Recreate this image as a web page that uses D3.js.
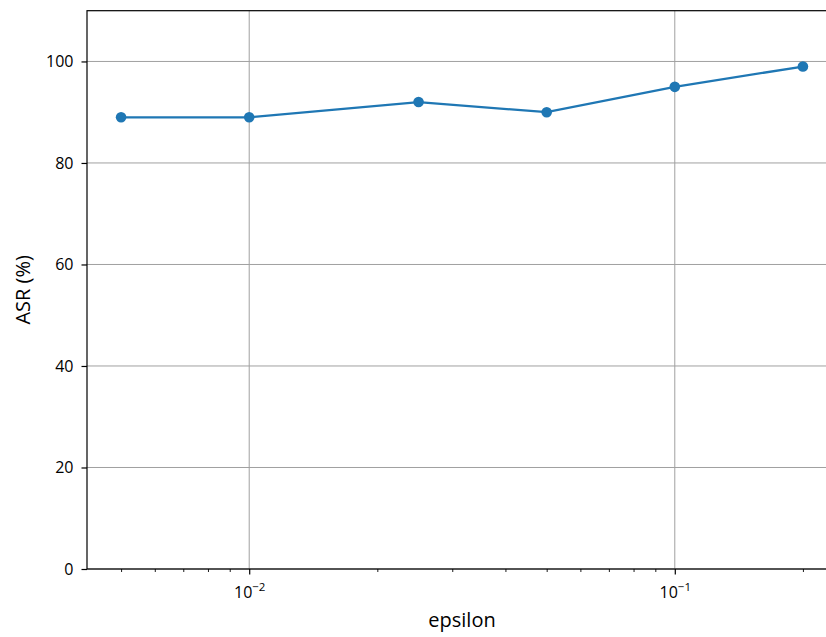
<!DOCTYPE html>
<html><head><meta charset="utf-8">
<script src="https://cdn.jsdelivr.net/npm/d3@7"></script>
<style>body{margin:0;background:#fff}svg{display:block}</style>
</head><body>
<svg id="c" width="826" height="637"></svg>
<script>
const epsilons = [0.005, 0.01, 0.025, 0.05, 0.1, 0.2];
const asr = [89, 89, 92, 90, 95, 99];
const yTicks = [0, 20, 40, 60, 80, 100];
const xMajorTicks = [0.01, 0.1];
const xMinorTicks = [0.005, 0.006, 0.007, 0.008, 0.009, 0.02, 0.03, 0.04, 0.05, 0.06, 0.07, 0.08, 0.09, 0.2];
const xMajorExp = ["−2", "−1"];

const svg = d3.select("#c");
const L = 87, R = 837, T = 10.7, B = 569;
const pad = 0.0801;
const x = d3.scaleLog().domain([0.005 / Math.pow(10, pad), 0.2 * Math.pow(10, pad)]).range([L, R]);
const y = d3.scaleLinear().domain([0, 110]).range([B, T]);
const font = "'Open Sans', 'Noto Sans', sans-serif";
const grid = "#a0a0a0";

// grid
svg.append("g").selectAll("line").data(yTicks).join("line")
  .attr("x1", L).attr("x2", R).attr("y1", d => y(d)).attr("y2", d => y(d))
  .attr("stroke", grid).attr("stroke-width", 1);
svg.append("g").selectAll("line").data(xMajorTicks).join("line")
  .attr("x1", d => x(d)).attr("x2", d => x(d)).attr("y1", T).attr("y2", B)
  .attr("stroke", grid).attr("stroke-width", 1);

// y axis
const yAxis = d3.axisLeft(y).tickValues(yTicks).tickSize(5.5).tickPadding(8).tickFormat(d3.format("d"));
const gy = svg.append("g").attr("transform", `translate(${L},0)`).call(yAxis);
gy.select(".domain").remove();
gy.selectAll("text").attr("font-family", font).attr("font-size", 16).attr("fill", "#000");
gy.selectAll("line").attr("stroke", "#000").attr("stroke-width", 1.2);

// x axis major
const xAxis = d3.axisBottom(x).tickValues(xMajorTicks).tickSize(5.5).tickFormat("");
const gx = svg.append("g").attr("transform", `translate(0,${B})`).call(xAxis);
gx.select(".domain").remove();
gx.selectAll("line").attr("stroke", "#000").attr("stroke-width", 1.2);
gx.selectAll(".tick").each(function(d, i) {
  const t = d3.select(this).append("text").attr("y", 29).attr("text-anchor", "middle")
    .attr("font-family", font).attr("font-size", 16).attr("fill", "#000");
  t.append("tspan").text("10");
  t.append("tspan").attr("dy", -7).attr("font-size", 11.5).text(xMajorExp[i]);
});
// x axis minor
const xMinor = d3.axisBottom(x).tickValues(xMinorTicks).tickSize(3).tickFormat("");
const gxm = svg.append("g").attr("transform", `translate(0,${B})`).call(xMinor);
gxm.select(".domain").remove();
gxm.selectAll("line").attr("stroke", "#000").attr("stroke-width", 0.9);

// spines
svg.append("rect").attr("x", L).attr("y", T).attr("width", R - L).attr("height", B - T)
  .attr("fill", "none").attr("stroke", "#000").attr("stroke-width", 1.2);

// line
const line = d3.line().x((d, i) => x(epsilons[i])).y(d => y(d));
svg.append("path").datum(asr).attr("d", line).attr("fill", "none")
  .attr("stroke", "#1f77b4").attr("stroke-width", 2.3);
svg.append("g").selectAll("circle").data(asr).join("circle")
  .attr("cx", (d, i) => x(epsilons[i])).attr("cy", d => y(d)).attr("r", 5.3)
  .attr("fill", "#1f77b4");

// labels
svg.append("text").attr("x", (L + R) / 2).attr("y", 627).attr("text-anchor", "middle")
  .attr("font-family", font).attr("font-size", 20).attr("fill", "#000").text("epsilon");
svg.append("text").attr("transform", `translate(30,${(T + B) / 2}) rotate(-90)`).attr("text-anchor", "middle")
  .attr("font-family", font).attr("font-size", 20).attr("fill", "#000").text("ASR (%)");
</script>
</body></html>
